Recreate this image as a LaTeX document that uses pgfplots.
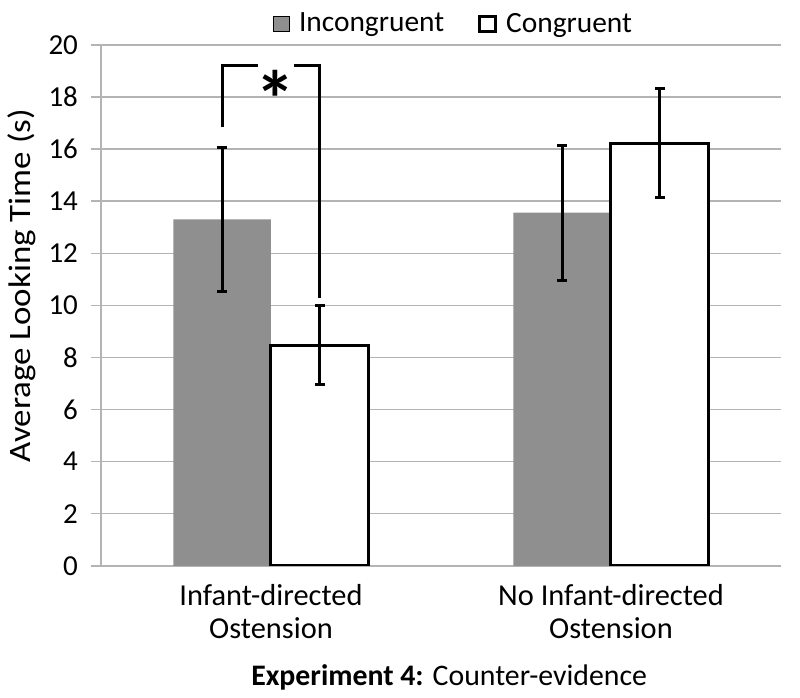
\documentclass[border=0pt]{standalone}
\usepackage{fontspec}
\setmainfont{Carlito}
\usepackage{graphicx}
\usepackage{pgfplots}
\pgfplotsset{compat=1.18}
\definecolor{barGray}{RGB}{143,143,143}
\definecolor{gridGray}{RGB}{180,180,180}
\begin{document}
\begin{tikzpicture}
\begin{axis}[
  at={(0,0)}, anchor=south west,
  scale only axis, width=340pt, height=260.4pt,
  xmin=-0.5, xmax=1.5, ymin=0, ymax=20,
  ybar, bar width=0.287,
  axis x line*=bottom, axis y line*=left,
  axis line style={draw=gridGray, line width=0.75pt},
  xtick={0,1},
  xticklabels={{Infant-directed\\Ostension},{No Infant-directed\\Ostension}},
  xticklabel style={align=center, font=\fontsize{15.2}{16.5}\selectfont, yshift=-1pt},
  xtick style={draw=none},
  ytick={0,2,...,20},
  yticklabel style={font=\fontsize{14.5}{17}\selectfont, xshift=-3pt},
  /pgf/number format/assume math mode=true,
  tick align=outside, major tick length=5pt,
  ytick style={draw=gridGray, line width=0.75pt},
  ymajorgrids, grid style={draw=gridGray, line width=0.75pt},
  ylabel={\scalebox{1.12}[1]{Average Looking Time (s)}},
  ylabel style={at={(axis description cs:-0.116,0.538)}, anchor=center, font=\fontsize{15.6}{18}\selectfont},
  xlabel={\textbf{Experiment 4:} Counter-evidence},
  xlabel style={at={(axis description cs:0.512,0)}, anchor=center, yshift=-56pt, font=\fontsize{14.9}{17}\selectfont},
  legend style={at={(axis description cs:0.52,1)}, anchor=center, yshift=10.5pt, draw=none, fill=none,
    legend columns=2, font=\fontsize{14.7}{17}\selectfont,
    /tikz/every odd column/.append style={column sep=2.5pt},
    /tikz/every even column/.append style={column sep=15pt}},
  legend image code/.code={\draw[#1] (0pt,-3.5pt) rectangle (8pt,4pt);},
  error bars/y dir=both, error bars/y explicit,
  error bars/error bar style={line width=1.5pt, black},
  error bars/error mark options={rotate=90, mark size=2.4pt, line width=1.5pt, black},
]
\addplot[fill=barGray, draw=none, bar shift=-0.1435] coordinates {
  (0,13.30) +- (0,2.78)
  (1,13.56) +- (0,2.59)
};
\addlegendentry{Incongruent}
\addplot[fill=white, draw=black, line width=1.5pt, bar shift=0.1435] coordinates {
  (0,8.47) +- (0,1.52)
  (1,16.23) +- (0,2.10)
};
\addlegendentry{Congruent}
\draw[line width=1.5pt, black] (axis cs:-0.1426,16.84) -- (axis cs:-0.1426,19.22) -- (axis cs:-0.039,19.22);
\draw[line width=1.5pt, black] (axis cs:0.067,19.22) -- (axis cs:0.1426,19.22) -- (axis cs:0.1426,10.30);
\node[inner sep=0pt, anchor=base] at (axis cs:0.012,16.84) {\fontsize{40}{40}\selectfont\bfseries *};
\end{axis}
\pgfresetboundingbox
\path[use as bounding box] (-50.5pt,-66pt) rectangle (349.5pt,282.9pt);
\end{tikzpicture}
\end{document}
